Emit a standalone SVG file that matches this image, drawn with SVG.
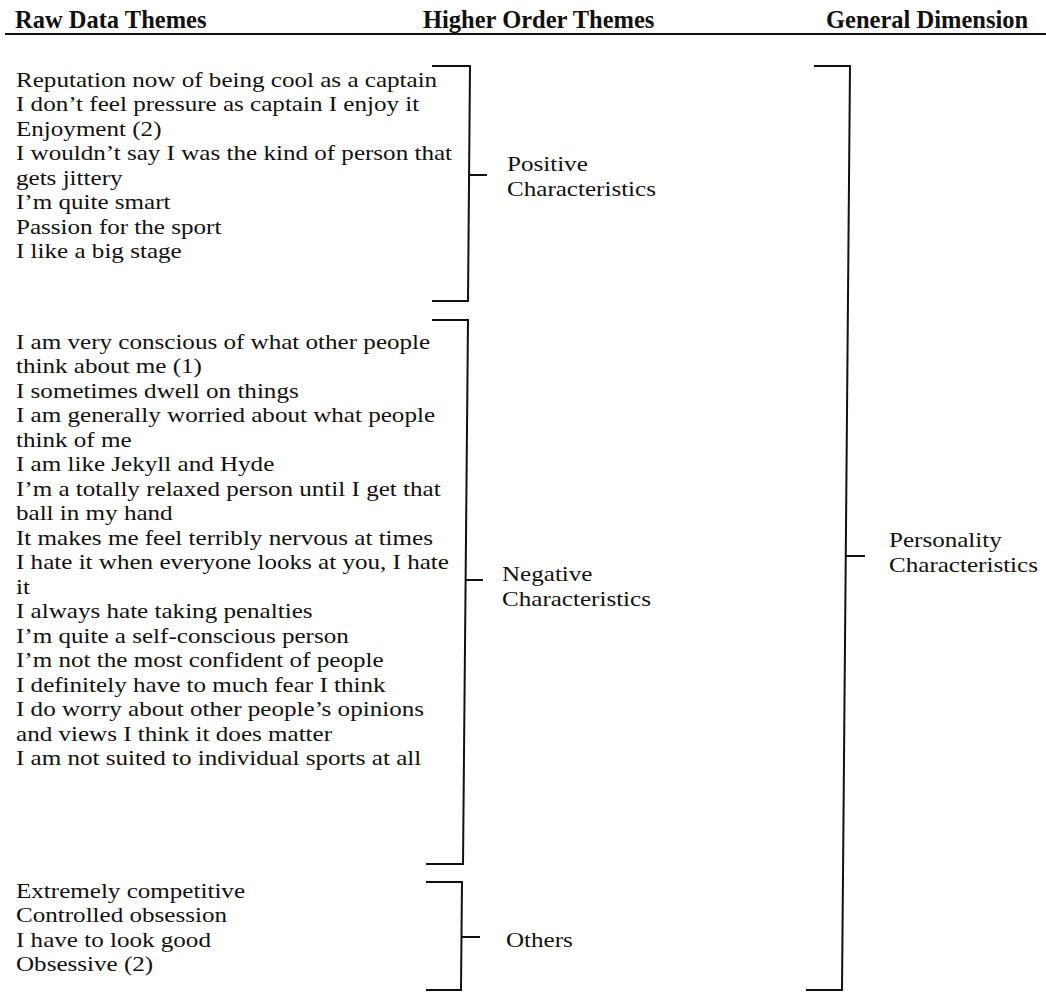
<svg xmlns="http://www.w3.org/2000/svg" width="1046" height="992" viewBox="0 0 1046 992">
<style>
text{font-family:"Liberation Serif","Times New Roman",serif;fill:#111}
.h{font-weight:bold;font-size:24.5px}
.t{font-size:22px}
.b{fill:none;stroke:#111;stroke-width:2}
</style>
<rect width="1046" height="992" fill="#fff"/>
<g id="header">
<text class="h" x="15" y="28">Raw Data Themes</text>
<text class="h" x="423" y="28">Higher Order Themes</text>
<text class="h" x="826" y="28">General Dimension</text>
<path class="b" d="M5,34 H1046"/>
</g>
<g id="raw-positive" transform="translate(16,0) scale(1.14,1)">
<text class="t" x="0" y="87">Reputation now of being cool as a captain</text>
<text class="t" x="0" y="111.5">I don’t feel pressure as captain I enjoy it</text>
<text class="t" x="0" y="136">Enjoyment (2)</text>
<text class="t" x="0" y="160.5">I wouldn’t say I was the kind of person that</text>
<text class="t" x="0" y="185">gets jittery</text>
<text class="t" x="0" y="209.5">I’m quite smart</text>
<text class="t" x="0" y="234">Passion for the sport</text>
<text class="t" x="0" y="258.5">I like a big stage</text>
</g>
<g id="raw-negative" transform="translate(16,0) scale(1.14,1)">
<text class="t" x="0" y="349">I am very conscious of what other people</text>
<text class="t" x="0" y="373.5">think about me (1)</text>
<text class="t" x="0" y="398">I sometimes dwell on things</text>
<text class="t" x="0" y="422.5">I am generally worried about what people</text>
<text class="t" x="0" y="447">think of me</text>
<text class="t" x="0" y="471.5">I am like Jekyll and Hyde</text>
<text class="t" x="0" y="496">I’m a totally relaxed person until I get that</text>
<text class="t" x="0" y="520.5">ball in my hand</text>
<text class="t" x="0" y="545">It makes me feel terribly nervous at times</text>
<text class="t" x="0" y="569.5">I hate it when everyone looks at you, I hate</text>
<text class="t" x="0" y="594">it</text>
<text class="t" x="0" y="618.5">I always hate taking penalties</text>
<text class="t" x="0" y="643">I’m quite a self-conscious person</text>
<text class="t" x="0" y="667.5">I’m not the most confident of people</text>
<text class="t" x="0" y="692">I definitely have to much fear I think</text>
<text class="t" x="0" y="716.5">I do worry about other people’s opinions</text>
<text class="t" x="0" y="741">and views I think it does matter</text>
<text class="t" x="0" y="765.5">I am not suited to individual sports at all</text>
</g>
<g id="raw-others" transform="translate(16,0) scale(1.14,1)">
<text class="t" x="0" y="898">Extremely competitive</text>
<text class="t" x="0" y="922.5">Controlled obsession</text>
<text class="t" x="0" y="947">I have to look good</text>
<text class="t" x="0" y="971.5">Obsessive (2)</text>
</g>
<g id="positive" transform="translate(507,0) scale(1.14,1)">
<text class="t" x="0" y="171.5">Positive</text>
<text class="t" x="0" y="196">Characteristics</text>
</g>
<g id="negative" transform="translate(502,0) scale(1.14,1)">
<text class="t" x="0" y="581">Negative</text>
<text class="t" x="0" y="606">Characteristics</text>
</g>
<g id="others" transform="translate(506,0) scale(1.14,1)">
<text class="t" x="0" y="947">Others</text>
</g>
<g id="personality" transform="translate(889,0) scale(1.14,1)">
<text class="t" x="0" y="547">Personality</text>
<text class="t" x="0" y="572">Characteristics</text>
</g>
<g id="connectors">
<path class="b" d="M432,66 H470 L468,301 H432"/>
<path class="b" d="M469,175 H487"/>
<path class="b" d="M432,320 H468 L463,864 H426"/>
<path class="b" d="M466,580 H483"/>
<path class="b" d="M426,882 H462 L461,990 H426"/>
<path class="b" d="M461,937 H480"/>
<path class="b" d="M814,66 H850 L842,990 H806"/>
<path class="b" d="M846,556 H865"/>
</g>
</svg>
